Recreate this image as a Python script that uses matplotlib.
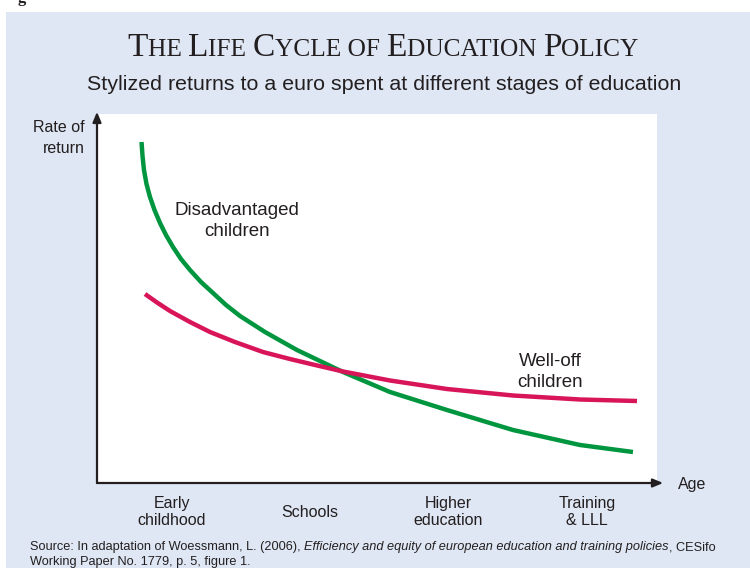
import matplotlib
matplotlib.use("Agg")
import matplotlib.pyplot as plt
from matplotlib.patches import Rectangle

plt.rcParams['font.family'] = ['Liberation Sans', 'DejaVu Sans']

# ---------------------------------------------------------------
# data (stylized curves; x = age, y = rate)
# ---------------------------------------------------------------
green_x = [0.795, 0.813, 0.839, 0.884, 0.946, 1.027, 1.125, 1.232, 1.357, 1.500, 1.661, 1.857,
           2.071, 2.304, 2.554, 3.000, 3.571, 4.393, 5.232, 6.250, 7.429, 8.625, 9.571]
green_y = [9.241, 8.862, 8.482, 8.103, 7.751, 7.398, 7.046, 6.721, 6.396, 6.070, 5.772, 5.447,
           5.149, 4.824, 4.526, 4.092, 3.604, 3.008, 2.466, 1.978, 1.436, 1.030, 0.840]

red_x = [0.857, 1.071, 1.304, 1.661, 2.018, 2.464, 2.964, 3.446, 3.857, 4.393, 5.232, 6.250,
         7.429, 8.625, 9.643]
red_y = [5.122, 4.892, 4.661, 4.363, 4.092, 3.821, 3.550, 3.360, 3.211, 3.022, 2.778, 2.547,
         2.371, 2.263, 2.222]

stage_pos = [1.34, 3.80, 6.27, 8.75]
stage_labels = ['Early\nchildhood', 'Schools', 'Higher\neducation', 'Training\n& LLL']

green = '#00963f'
red = '#d9155a'
bg = '#dfe7f4'
ink = '#231f20'

W, H = 750, 568
fig = plt.figure(figsize=(W / 100, H / 100), dpi=100)
fig.patch.set_facecolor('white')

# blue panel
fig.patches.append(Rectangle((6 / W, 0), 1, 1 - 12 / H, transform=fig.transFigure,
                             facecolor=bg, edgecolor='none', zorder=-10))

# cut off caption of the page above (only the descender shows)
fig.text(18 / W, 1 - 2 / H, 'g', family='Liberation Serif', fontweight='bold',
         fontsize=12, color=ink, va='baseline')

ax = fig.add_axes([97 / W, (H - 483) / H, (657 - 97) / W, (483 - 114) / H])
ax.set_facecolor('white')
ax.plot(green_x, green_y, color=green, lw=3.2, solid_capstyle='butt', solid_joinstyle='round')
ax.plot(red_x, red_y, color=red, lw=3.2, solid_capstyle='butt', solid_joinstyle='round')
ax.set_xlim(0, 10)
ax.set_ylim(0, 10)
for s in ax.spines.values():
    s.set_visible(False)
ax.set_yticks([])
ax.set_xticks(stage_pos)
ax.set_xticklabels(stage_labels, fontsize=11.5, color=ink, linespacing=1.2, va='center')
ax.tick_params(axis='x', length=0, pad=21)

# axis arrows
arr = dict(arrowstyle='-|>,head_length=0.6,head_width=0.25', color=ink, lw=1.6,
           shrinkA=0, shrinkB=0)
ax.annotate('', xy=(0, 1.006), xytext=(0, 0), xycoords='axes fraction', arrowprops=arr)
ax.annotate('', xy=(1.011, 0), xytext=(0, 0), xycoords='axes fraction', arrowprops=arr)

ax.text(2.50, 7.10, 'Disadvantaged\nchildren', fontsize=13.5, color=ink, ha='center',
        va='center', linespacing=1.3)
ax.text(8.09, 3.02, 'Well-off\nchildren', fontsize=13.5, color=ink, ha='center',
        va='center', linespacing=1.3)

fig.text(85 / W, 1 - 138 / H, 'Rate of\nreturn', fontsize=11.5, color=ink, ha='right',
         va='center', linespacing=1.45)
fig.text(678 / W, 1 - 485 / H, 'Age', fontsize=11.5, color=ink, ha='left', va='center')

fig.text(384 / W, 1 - 84 / H, 'Stylized returns to a euro spent at different stages of education',
         fontsize=15.4, color=ink, ha='center', va='center')

renderer = fig.canvas.get_renderer()


def run_text(x0, y0, runs, center=False):
    # lay out text pieces one after another on a shared baseline (pixels)
    pieces = []
    x = x0
    for txt, kw in runs:
        t = fig.text(x / W, y0 / H, txt, va='baseline', ha='left', color=ink, **kw)
        w = t.get_window_extent(renderer).width
        pieces.append((t, w))
        x += w
    if center:
        total = x - x0
        xx = x0 - total / 2
        for t, w in pieces:
            t.set_x(xx / W)
            xx += w


big = dict(family='Liberation Serif', fontsize=24)
small = dict(family='Liberation Serif', fontsize=18.3)
title_runs = [('T', big), ('HE ', small), ('L', big), ('IFE ', small), ('C', big),
              ('YCLE OF ', small), ('E', big), ('DUCATION ', small), ('P', big), ('OLICY', small)]
run_text(383, H - 56, title_runs, center=True)

norm = dict(fontsize=9.2)
ital = dict(fontsize=9.2, style='italic')
run_text(30, H - 550, [('Source: In adaptation of Woessmann, L. (2006), ', norm),
                       ('Efficiency and equity of european education and training policies', ital),
                       (', CESifo', norm)])
run_text(30, H - 565, [('Working Paper No. 1779, p. 5, figure 1.', norm)])

fig.savefig('out.png', dpi=100)
